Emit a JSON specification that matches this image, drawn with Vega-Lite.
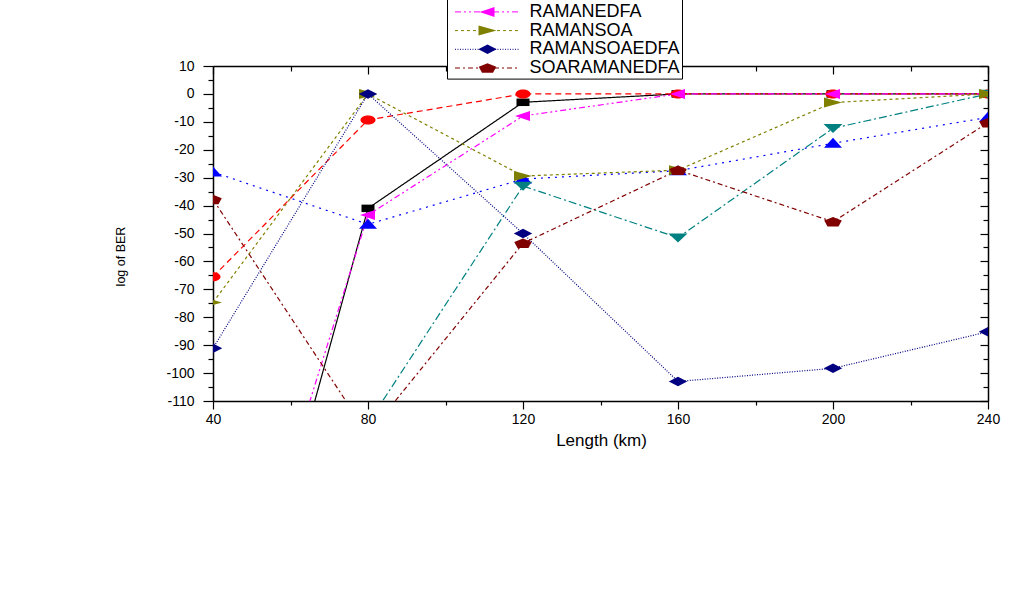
{
  "$schema": "https://vega.github.io/schema/vega-lite/v6.json",
  "width": 775,
  "height": 335,
  "autosize": {"type": "none"},
  "padding": {"left": 213, "top": 66, "right": 39, "bottom": 193},
  "background": "white",
  "config": {
    "view": {"stroke": null},
    "axis": {
      "grid": false,
      "domainColor": "black",
      "tickColor": "black",
      "labelColor": "black",
      "titleColor": "black",
      "labelFont": "Liberation Sans",
      "titleFont": "Liberation Sans",
      "titleFontWeight": "normal",
      "zindex": 1,
      "domainWidth": 1.5,
      "tickWidth": 1.2
    }
  },
  "data": {
    "values": [
      {"x": 40, "y": -242, "series": "RAMAN"},
      {"x": 80, "y": -41, "series": "RAMAN"},
      {"x": 120, "y": -3, "series": "RAMAN"},
      {"x": 160, "y": 0, "series": "RAMAN"},
      {"x": 200, "y": 0, "series": "RAMAN"},
      {"x": 240, "y": 0, "series": "RAMAN"},
      {"x": 40, "y": -65.5, "series": "EDFA"},
      {"x": 80, "y": -9.3, "series": "EDFA"},
      {"x": 120, "y": 0, "series": "EDFA"},
      {"x": 160, "y": 0, "series": "EDFA"},
      {"x": 200, "y": 0, "series": "EDFA"},
      {"x": 240, "y": 0, "series": "EDFA"},
      {"x": 40, "y": -28, "series": "SOA"},
      {"x": 80, "y": -46.7, "series": "SOA"},
      {"x": 120, "y": -30.5, "series": "SOA"},
      {"x": 160, "y": -27.5, "series": "SOA"},
      {"x": 200, "y": -17.7, "series": "SOA"},
      {"x": 240, "y": -8.4, "series": "SOA"},
      {"x": 40, "y": -170, "series": "SOAEDFA"},
      {"x": 80, "y": -118, "series": "SOAEDFA"},
      {"x": 120, "y": -33, "series": "SOAEDFA"},
      {"x": 160, "y": -51.5, "series": "SOAEDFA"},
      {"x": 200, "y": -12.3, "series": "SOAEDFA"},
      {"x": 240, "y": 0, "series": "SOAEDFA"},
      {"x": 40, "y": -221, "series": "RAMANEDFA"},
      {"x": 80, "y": -43.4, "series": "RAMANEDFA"},
      {"x": 120, "y": -7.9, "series": "RAMANEDFA"},
      {"x": 160, "y": 0, "series": "RAMANEDFA"},
      {"x": 200, "y": 0, "series": "RAMANEDFA"},
      {"x": 240, "y": 0, "series": "RAMANEDFA"},
      {"x": 40, "y": -74.7, "series": "RAMANSOA"},
      {"x": 80, "y": 0, "series": "RAMANSOA"},
      {"x": 120, "y": -29.4, "series": "RAMANSOA"},
      {"x": 160, "y": -27.3, "series": "RAMANSOA"},
      {"x": 200, "y": -3.1, "series": "RAMANSOA"},
      {"x": 240, "y": 0, "series": "RAMANSOA"},
      {"x": 40, "y": -91.1, "series": "RAMANSOAEDFA"},
      {"x": 80, "y": 0, "series": "RAMANSOAEDFA"},
      {"x": 120, "y": -50, "series": "RAMANSOAEDFA"},
      {"x": 160, "y": -103, "series": "RAMANSOAEDFA"},
      {"x": 200, "y": -98.3, "series": "RAMANSOAEDFA"},
      {"x": 240, "y": -85.2, "series": "RAMANSOAEDFA"},
      {"x": 40, "y": -37.8, "series": "SOARAMANEDFA"},
      {"x": 80, "y": -122, "series": "SOARAMANEDFA"},
      {"x": 120, "y": -53.5, "series": "SOARAMANEDFA"},
      {"x": 160, "y": -27.3, "series": "SOARAMANEDFA"},
      {"x": 200, "y": -45.8, "series": "SOARAMANEDFA"},
      {"x": 240, "y": -10.3, "series": "SOARAMANEDFA"}
    ]
  },
  "layer": [
    {
      "mark": {"type": "line", "clip": true, "strokeWidth": 1.2},
      "encoding": {
        "x": {
          "field": "x", "type": "quantitative",
          "scale": {"domain": [40, 240], "nice": false, "zero": false},
          "axis": {
            "orient": "bottom", "values": [40, 80, 120, 160, 200, 240],
            "tickSize": 8, "labelFontSize": 14, "labelPadding": 3,
            "labelFlush": false, "labelOverlap": false,
            "labelExpr": "'' + datum.value",
            "title": "Length (km)", "titleFontSize": 17,
            "titleX": 388, "titleY": 39, "titleBaseline": "middle", "titleAlign": "center"
          }
        },
        "y": {
          "field": "y", "type": "quantitative",
          "scale": {"domain": [-110, 10], "nice": false, "zero": false},
          "axis": {
            "orient": "left",
            "values": [-110, -100, -90, -80, -70, -60, -50, -40, -30, -20, -10, 0, 10],
            "tickSize": 10, "labelFontSize": 14, "labelPadding": 9,
            "labelOverlap": false, "labelFlush": false,
            "labelExpr": "'' + datum.value",
            "title": "log of BER", "titleFont": "Liberation Sans", "titleFontSize": 12.5,
            "titleX": -93, "titleY": 190, "titleAngle": 270,
            "titleBaseline": "middle", "titleAlign": "center"
          }
        },
        "color": {
          "field": "series", "type": "nominal",
          "scale": {
            "domain": ["RAMAN", "EDFA", "SOA", "SOAEDFA", "RAMANEDFA", "RAMANSOA", "RAMANSOAEDFA", "SOARAMANEDFA"],
            "range": ["#000000", "#FF0000", "#0000FF", "#008080", "#FF00FF", "#808000", "#000080", "#800000"]
          },
          "legend": {
            "orient": "none", "legendX": 234, "legendY": -139.4, "title": null,
            "padding": 1.5, "clipHeight": 18, "rowPadding": 0.7,
            "symbolType": "stroke", "symbolSize": 4225, "symbolStrokeWidth": 1,
            "symbolOffset": 6, "labelOffset": 9,
            "labelFont": "Liberation Sans", "labelFontSize": 18, "labelColor": "black",
            "strokeColor": "black", "fillColor": "white", "cornerRadius": 0
          }
        },
        "strokeDash": {
          "field": "series", "type": "nominal",
          "scale": {
            "domain": ["RAMAN", "EDFA", "SOA", "SOAEDFA", "RAMANEDFA", "RAMANSOA", "RAMANSOAEDFA", "SOARAMANEDFA"],
            "range": [[1, 0], [6, 4], [2, 5], [8, 3, 2, 3], [6, 3, 2, 3, 2, 3], [3, 3], [1, 1.5], [5, 3, 2, 3]]
          },
          "legend": {
            "orient": "none", "legendX": 234, "legendY": -139.4, "title": null,
            "padding": 1.5, "clipHeight": 18, "rowPadding": 0.7,
            "symbolType": "stroke", "symbolSize": 4225, "symbolStrokeWidth": 1,
            "symbolOffset": 6, "labelOffset": 9,
            "labelFont": "Liberation Sans", "labelFontSize": 18, "labelColor": "black",
            "strokeColor": "black", "fillColor": "white", "cornerRadius": 0
          }
        }
      }
    },
    {
      "mark": {"type": "point", "clip": true, "filled": true, "size": 100, "opacity": 1, "strokeWidth": 0},
      "encoding": {
        "x": {
          "field": "x", "type": "quantitative",
          "scale": {"domain": [40, 240], "nice": false, "zero": false},
          "axis": {"orient": "top", "values": [40, 80, 120, 160, 200, 240], "tickSize": -8, "labels": false, "title": null}
        },
        "y": {
          "field": "y", "type": "quantitative",
          "scale": {"domain": [-110, 10], "nice": false, "zero": false},
          "axis": {"orient": "right", "values": [-110, -100, -90, -80, -70, -60, -50, -40, -30, -20, -10, 0, 10], "tickSize": -8, "labels": false, "title": null}
        },
        "fill": {
          "field": "series", "type": "nominal",
          "scale": {
            "domain": ["SOARAMANEDFA", "RAMANSOAEDFA", "RAMANSOA", "RAMANEDFA", "SOAEDFA", "SOA", "EDFA", "RAMAN"],
            "range": ["#800000", "#000080", "#808000", "#FF00FF", "#008080", "#0000FF", "#FF0000", "#000000"]
          },
          "legend": {
            "orient": "none", "legendX": 234, "legendY": -139.4, "title": null,
            "values": ["RAMAN", "EDFA", "SOA", "SOAEDFA", "RAMANEDFA", "RAMANSOA", "RAMANSOAEDFA", "SOARAMANEDFA"],
            "padding": 1.5, "clipHeight": 18, "rowPadding": 0.7,
            "symbolSize": 100, "symbolStrokeWidth": 0, "symbolOffset": 30,
            "labelFontSize": 18, "labelOpacity": 0, "labelOffset": 9
          }
        },
        "shape": {
          "field": "series", "type": "nominal",
          "scale": {
            "domain": ["SOARAMANEDFA", "RAMANSOAEDFA", "RAMANSOA", "RAMANEDFA", "SOAEDFA", "SOA", "EDFA", "RAMAN"],
            "range": [
              "M0,-0.95L1.75,-0.25L1.1,0.95L-1.1,0.95L-1.75,-0.25Z",
              "M0,-0.95L1.85,0L0,0.95L-1.85,0Z",
              "M1.8,0L-1.8,-1L-1.8,1Z",
              "M-1.6,0L1.4,-1L1.4,1Z",
              "M-1.9,-0.85L1.9,-0.85L0,0.95Z",
              "M0,-1.1L1.8,0.9L-1.8,0.9Z",
              "M-1.5,0A1.5,0.9 0 1,1 1.5,0A1.5,0.9 0 1,1 -1.5,0Z",
              "M-1.3,-0.75H1.3V0.75H-1.3Z"
            ]
          },
          "legend": {
            "orient": "none", "legendX": 234, "legendY": -139.4, "title": null,
            "values": ["RAMAN", "EDFA", "SOA", "SOAEDFA", "RAMANEDFA", "RAMANSOA", "RAMANSOAEDFA", "SOARAMANEDFA"],
            "padding": 1.5, "clipHeight": 18, "rowPadding": 0.7,
            "symbolSize": 100, "symbolStrokeWidth": 0, "symbolOffset": 30,
            "labelFontSize": 18, "labelOpacity": 0, "labelOffset": 9
          }
        }
      }
    },
    {
      "mark": {"type": "point", "opacity": 0},
      "encoding": {
        "x": {
          "field": "x", "type": "quantitative",
          "scale": {"domain": [40, 240], "nice": false, "zero": false},
          "axis": {"orient": "bottom", "values": [60, 100, 140, 180, 220], "tickSize": 4, "labels": false, "domain": false, "title": null}
        },
        "y": {
          "field": "y", "type": "quantitative",
          "scale": {"domain": [-110, 10], "nice": false, "zero": false},
          "axis": {"orient": "left", "values": [-105, -95, -85, -75, -65, -55, -45, -35, -25, -15, -5, 5], "tickSize": 5, "labels": false, "domain": false, "title": null}
        }
      }
    },
    {
      "mark": {"type": "point", "opacity": 0},
      "encoding": {
        "x": {
          "field": "x", "type": "quantitative",
          "scale": {"domain": [40, 240], "nice": false, "zero": false},
          "axis": {"orient": "top", "values": [60, 100, 140, 180, 220], "tickSize": -5, "labels": false, "domain": false, "title": null}
        },
        "y": {
          "field": "y", "type": "quantitative",
          "scale": {"domain": [-110, 10], "nice": false, "zero": false},
          "axis": {"orient": "right", "values": [-105, -95, -85, -75, -65, -55, -45, -35, -25, -15, -5, 5], "tickSize": -5, "labels": false, "domain": false, "title": null}
        }
      }
    }
  ],
  "resolve": {"axis": {"x": "independent", "y": "independent"}}
}
